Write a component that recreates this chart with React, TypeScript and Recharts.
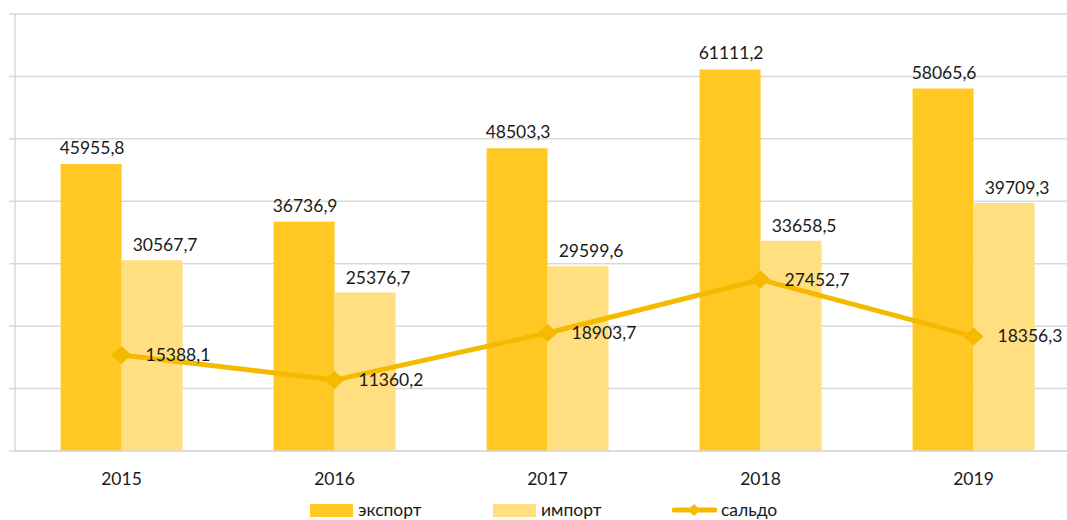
import {
  ComposedChart, Bar, Line, XAxis, YAxis,
  CartesianGrid, LabelList, Legend,
} from 'recharts';

const years = ['2015', '2016', '2017', '2018', '2019'];
const exportValues = [45955.8, 36736.9, 48503.3, 61111.2, 58065.6];
const importValues = [30567.7, 25376.7, 29599.6, 33658.5, 39709.3];
const saldoValues = [15388.1, 11360.2, 18903.7, 27452.7, 18356.3];
const yTicks = [0, 10000, 20000, 30000, 40000, 50000, 60000, 70000];
const edgeTicks = [0, 1, 2, 3, 4, 5];

const data = years.map((year, i) => ({
  year,
  export: exportValues[i],
  import: importValues[i],
  saldo: saldoValues[i],
}));

const FONT = "Lato, 'Open Sans', sans-serif";
const FS = 17.5;
const TEXT = '#1a1a1a';
const AXIS = '#d9d9d9';
const C_EXPORT = '#FFC823';
const C_IMPORT = '#FFDF80';
const C_SALDO = '#F5BA00';

const fmt = (v: number) => v.toFixed(1).replace('.', ',');

// подписи над столбцами
const barLabel = (dx: number, dy: number) => (p: any) => (
  <text
    x={p.x + p.width / 2 + dx}
    y={p.y - dy}
    textAnchor="middle"
    fontSize={FS}
    fontFamily={FONT}
    fill={TEXT}
  >
    {fmt(p.value)}
  </text>
);

const saldoLabel = (p: any) => (
  <text x={p.x + 24} y={p.y + 6} fontSize={FS} fontFamily={FONT} fill={TEXT}>
    {fmt(p.value)}
  </text>
);

const diamond = (p: any) => (
  <polygon
    key={`d-${p.index}`}
    points={`${p.cx - 10},${p.cy} ${p.cx},${p.cy - 9} ${p.cx + 10},${p.cy} ${p.cx},${p.cy + 9}`}
    fill={C_SALDO}
  />
);

const yearTick = (p: any) => (
  <text
    x={p.x}
    y={p.y + 32}
    textAnchor="middle"
    fontSize={FS}
    fontFamily={FONT}
    fill={TEXT}
  >
    {p.payload.value}
  </text>
);

const renderLegend = () => (
  <div style={{ position: 'relative', height: 16, fontFamily: FONT, fontSize: FS, color: TEXT, lineHeight: '16px' }}>
    <div style={{ position: 'absolute', left: 310, top: 0, display: 'flex', alignItems: 'center' }}>
      <span style={{ width: 43, height: 13, background: C_EXPORT, marginRight: 5 }} />
      экспорт
    </div>
    <div style={{ position: 'absolute', left: 493, top: 0, display: 'flex', alignItems: 'center' }}>
      <span style={{ width: 43, height: 13, background: C_IMPORT, marginRight: 5 }} />
      импорт
    </div>
    <div style={{ position: 'absolute', left: 672, top: 0, display: 'flex', alignItems: 'center' }}>
      <svg width={45} height={14} style={{ marginRight: 4 }}>
        <line x1={2} y1={7} x2={43} y2={7} stroke={C_SALDO} strokeWidth={5} strokeLinecap="round" />
        <polygon points="16,7 22,1 28,7 22,13" fill={C_SALDO} />
      </svg>
      сальдо
    </div>
  </div>
);

export default function App() {
  return (
    <div style={{ height: 504 }}>
      <div
        style={{
          position: 'fixed',
          left: 0,
          top: 0,
          width: 1067,
          height: 520,
          overflow: 'hidden',
          background: '#fff',
        }}
      >
        <ComposedChart
          width={1090}
          height={530}
          data={data}
          margin={{ top: 14, right: 10, left: 0, bottom: 39 }}
          barGap={0}
          barCategoryGap="21.4%"
        >
          <CartesianGrid vertical={false} stroke={AXIS} strokeWidth={1.5} />
          <XAxis
            xAxisId="edges"
            type="number"
            domain={[0, 5]}
            ticks={edgeTicks}
            allowDataOverflow
            height={0}
            axisLine={false}
            tickSize={6}
            tickLine={{ stroke: AXIS, strokeWidth: 1.5 }}
            tick={() => <g />}
          />
          <XAxis
            dataKey="year"
            height={40}
            tickSize={0}
            tickLine={false}
            axisLine={{ stroke: AXIS, strokeWidth: 1.5 }}
            tick={yearTick}
            interval={0}
          />
          <YAxis
            width={15}
            domain={[0, 70000]}
            ticks={yTicks}
            interval={0}
            tickSize={6}
            axisLine={{ stroke: AXIS, strokeWidth: 1.5 }}
            tickLine={{ stroke: AXIS, strokeWidth: 1.5 }}
            tick={() => <g />}
          />
          <Legend
            layout="horizontal"
            verticalAlign="middle"
            content={renderLegend}
            wrapperStyle={{ top: 502, left: 0, width: 1090, height: 16 }}
          />
          <Bar dataKey="export" name="экспорт" fill={C_EXPORT} isAnimationActive={false}>
            <LabelList dataKey="export" content={barLabel(1, 10)} />
          </Bar>
          <Bar dataKey="import" name="импорт" fill={C_IMPORT} isAnimationActive={false}>
            <LabelList dataKey="import" content={barLabel(13, 9)} />
          </Bar>
          <Line
            dataKey="saldo"
            name="сальдо"
            type="linear"
            stroke={C_SALDO}
            strokeWidth={5}
            dot={diamond}
            activeDot={false}
            isAnimationActive={false}
          >
            <LabelList dataKey="saldo" content={saldoLabel} />
          </Line>
        </ComposedChart>
      </div>
    </div>
  );
}
